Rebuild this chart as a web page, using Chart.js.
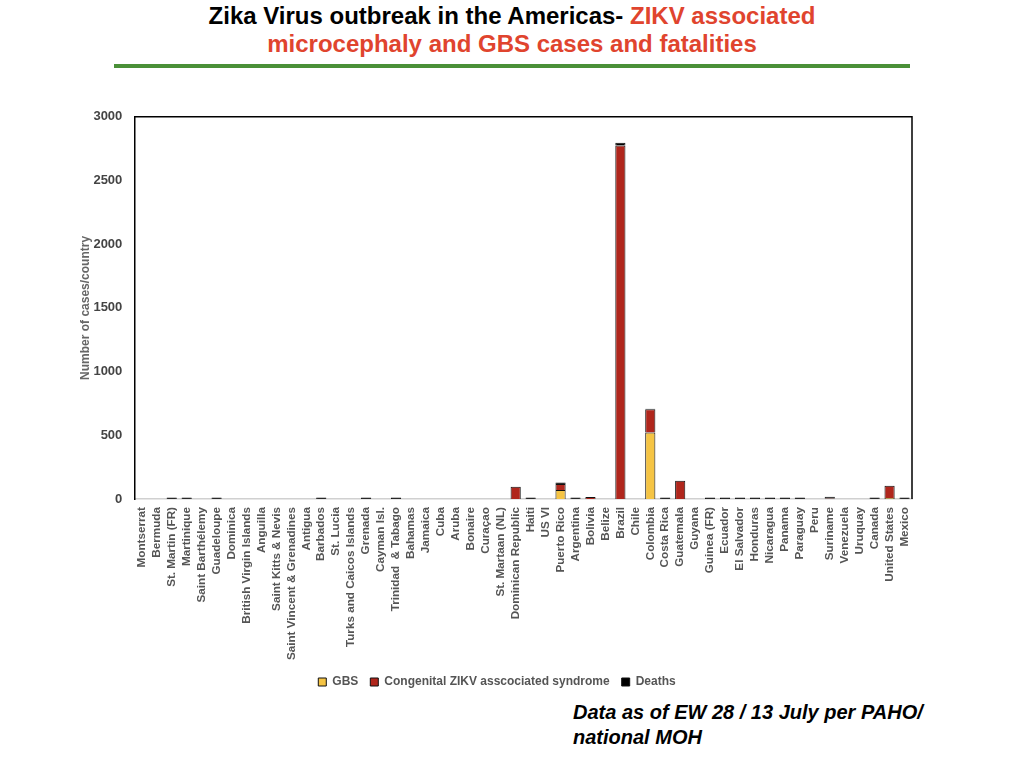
<!DOCTYPE html>
<html>
<head>
<meta charset="utf-8">
<script src="https://cdn.jsdelivr.net/npm/chart.js@4/dist/chart.umd.min.js"></script>
<style>
  html, body { margin:0; padding:0; background:#fff; }
  body { width:1024px; height:768px; position:relative; overflow:hidden; font-family:"Liberation Sans", Arial, Helvetica, sans-serif; }
  #title { position:absolute; left:0; top:2px; width:1024px; text-align:center; font-weight:bold; font-size:24px; line-height:28px; color:#000; }
  #title .red { color:#e0442e; }
  #rule { position:absolute; left:114px; top:64px; width:796px; height:4px; background:#4a9038; }
  #wrap { position:absolute; left:74px; top:97px; width:863px; height:601px; }
  #note { position:absolute; left:573px; top:700px; font-weight:bold; font-style:italic; font-size:20px; line-height:25px; color:#000; }
</style>
</head>
<body>
<div id="title">Zika Virus outbreak in the Americas- <span class="red">ZIKV associated</span><br><span class="red">microcephaly and GBS cases and fatalities</span></div>
<div id="rule"></div>
<div id="wrap"><canvas id="c"></canvas></div>
<div id="note">Data as of EW 28 / 13 July per PAHO/<br>national MOH</div>
<script>
const countries = ["Montserrat","Bermuda","St. Martin (FR)","Martinique","Saint Barthélemy","Guadeloupe","Dominica","British Virgin Islands","Anguilla","Saint Kitts & Nevis","Saint Vincent & Grenadines","Antigua","Barbados","St. Lucia","Turks and Caicos Islands","Grenada","Cayman Isl.","Trinidad  & Tabago","Bahamas","Jamaica","Cuba","Aruba","Bonaire","Curaçao","St. Martaan (NL)","Dominican Republic","Haiti","US VI","Puerto Rico","Argentina","Bolivia","Belize","Brazil","Chile","Colombia","Costa Rica","Guatemala","Guyana","Guinea (FR)","Ecuador","El Salvador","Honduras","Nicaragua","Panama","Paraguay","Peru","Suriname","Venezuela","Uruquay","Canada","United States","Mexico"];
const gbs    = [0,0,0,0,0,0,0,0,0,0,0,0,0,0,0,0,0,0,0,0,0,0,0,0,0,0,0,0,70,0,0,0,0,0,522,0,0,0,0,0,0,0,0,0,0,0,0,0,0,0,8,0];
const czs    = [0,0,0,0,0,0,0,0,0,0,0,0,0,0,0,0,0,0,0,0,0,0,0,0,0,97,0,0,47,0,16,0,2774,0,183,0,143,0,0,0,0,0,0,0,0,0,4,0,0,0,96,0];
const deaths = [0,0,12,12,0,12,0,0,0,0,0,0,12,0,0,12,0,12,0,0,0,0,0,0,0,0,12,0,12,12,0,0,22,0,3,12,0,0,12,12,12,12,12,12,12,0,14,0,0,12,0,12];
const yTicks = [0,500,1000,1500,2000,2500,3000];

const frame = {
  id:'frame',
  afterLayout(chart){
    const lg = chart.legend;
    if (lg) { lg.left += 4; lg.right += 4; }
  },
  afterDraw(chart){
    const a = chart.chartArea, ctx = chart.ctx;
    ctx.save();
    ctx.strokeStyle = '#000'; ctx.lineWidth = 1.5;
    ctx.beginPath();
    ctx.moveTo(a.left, a.top); ctx.lineTo(a.right, a.top); ctx.lineTo(a.right, a.bottom);
    ctx.stroke();
    ctx.restore();
  }
};

const dsCommon = { borderColor:'#111', borderWidth:1, barPercentage:0.68, categoryPercentage:1.0 };
new Chart(document.getElementById('c'), {
  type:'bar',
  data:{
    labels: countries,
    datasets:[
      Object.assign({ label:'GBS', data:gbs, backgroundColor:'#f5c444' }, dsCommon),
      Object.assign({ label:'Congenital ZIKV asscociated syndrome', data:czs, backgroundColor:'#b0261c' }, dsCommon),
      Object.assign({ label:'Deaths', data:deaths, backgroundColor:'#000000' }, dsCommon)
    ]
  },
  options:{
    responsive:true, maintainAspectRatio:false, animation:false,
    layout:{ padding:{ left:0, right:25, top:10, bottom:0 } },
    plugins:{
      legend:{ position:'bottom', labels:{ boxWidth:8, boxHeight:8, color:'#555', font:{ family:'Liberation Sans', size:12, weight:'bold' }, padding:12 } },
      tooltip:{ enabled:false }
    },
    scales:{
      x:{ stacked:true,
          afterFit(axis){ axis.height = 165; },
          grid:{ display:false, drawTicks:false },
          border:{ display:true, color:'#d0d0d0', width:1.5 },
          ticks:{ autoSkip:false, maxRotation:90, minRotation:90, color:'#555', font:{ family:'Liberation Sans', size:11.7, weight:'bold' }, padding:8 } },
      y:{ stacked:true, min:0, max:3000,
          afterBuildTicks(axis){ axis.ticks = yTicks.map(v => ({ value:v })); },
          grid:{ display:false, drawTicks:false },
          border:{ display:true, color:'#000', width:1.5 },
          title:{ display:true, text:'Number of cases/country', color:'#666', font:{ family:'Liberation Sans', size:12, weight:'bold' }, padding:{ top:4, bottom:-11 } },
          ticks:{ color:'#444', font:{ family:'Liberation Sans', size:13, weight:'bold' }, padding:12, callback:(v)=>String(v) } }
    }
  },
  plugins:[frame]
});
</script>
</body>
</html>
